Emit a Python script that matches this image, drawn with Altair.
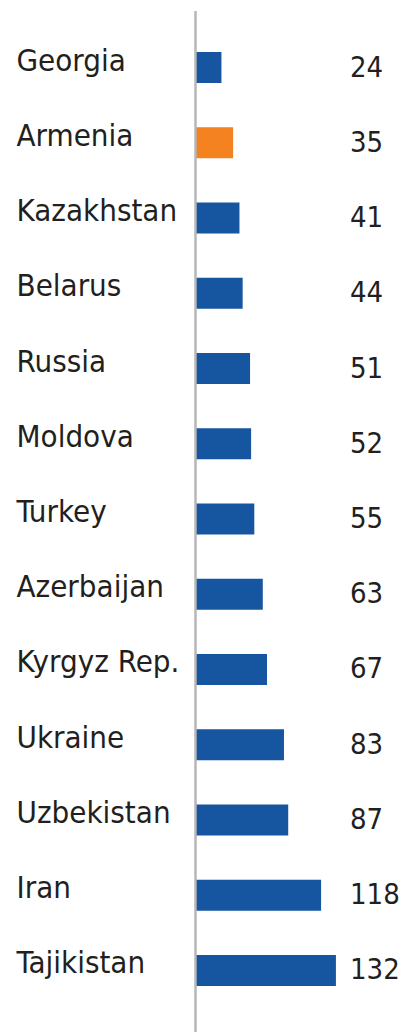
import altair as alt
import pandas as pd

countries = ["Georgia", "Armenia", "Kazakhstan", "Belarus", "Russia", "Moldova",
             "Turkey", "Azerbaijan", "Kyrgyz Rep.", "Ukraine", "Uzbekistan",
             "Iran", "Tajikistan"]
values = [24, 35, 41, 44, 51, 52, 55, 63, 67, 83, 87, 118, 132]
highlight = ["Armenia"]

df = pd.DataFrame({"country": countries, "value": values})
df["hl"] = df["country"].isin(highlight).map({True: "hl", False: "base"})

FONT = "DejaVu Sans Condensed, Roboto, sans-serif"
TEXT = "#231f20"
PLOT_W = 205
PLOT_H = 1016

y_enc = alt.Y("country:N", sort=countries,
              scale=alt.Scale(paddingInner=0.588, paddingOuter=0.545),
              axis=alt.Axis(title=None, domain=False, ticks=False, labelAlign="left",
                            labelPadding=180, labelFont=FONT, labelFontSize=31,
                            labelColor=TEXT, labelBaseline="alphabetic", labelOffset=3,
                            labelLimit=0))
x_scale = alt.Scale(domain=[0, PLOT_W / 1.06], nice=False)

bars = alt.Chart(df).mark_bar().encode(
    x=alt.X("value:Q", scale=x_scale, axis=None),
    y=y_enc,
    color=alt.Color("hl:N", scale=alt.Scale(domain=["base", "hl"], range=["#1656a0", "#f58220"]),
                    legend=None),
)

labels = alt.Chart(df).mark_text(align="left", baseline="alphabetic", dy=9,
                                 font=FONT, fontSize=29, color=TEXT).encode(
    x=alt.value(154),
    y=alt.Y("country:N", sort=countries),
    text=alt.Text("value:Q"),
)

axis_line = alt.Chart(df).mark_rule(color="#b8b8b8", strokeWidth=1.2).encode(
    x=alt.value(-0.5), y=alt.value(0), y2=alt.value(PLOT_H + 10)
)

chart = alt.layer(bars, labels, axis_line).properties(
    width=PLOT_W, height=PLOT_H,
    background="white",
    autosize=alt.AutoSizeParams(type="none"),
    padding={"left": 188, "top": 3, "right": 0, "bottom": 5},
).configure_view(stroke="transparent", strokeWidth=0)

chart.save("out.html", embed_options={"renderer": "svg", "actions": False})
